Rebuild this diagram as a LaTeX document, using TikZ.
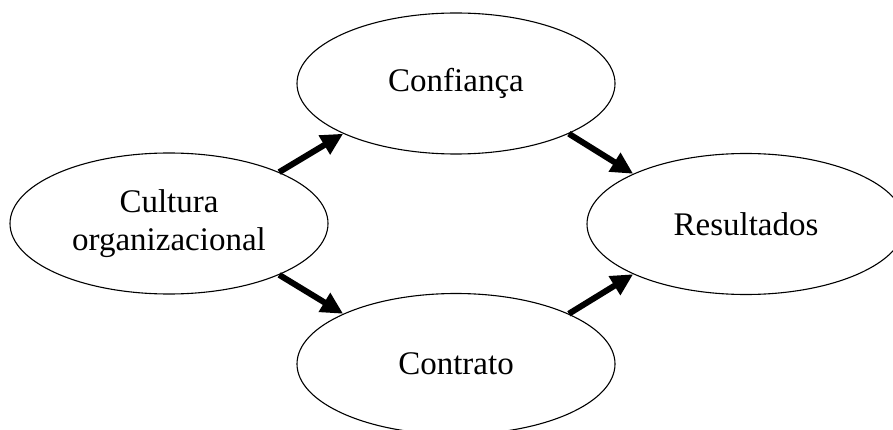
\documentclass[tikz,border=0pt]{standalone}
\usepackage{fontspec}
\setmainfont{Liberation Serif}
\usetikzlibrary{shapes.geometric, arrows.meta}

\begin{document}
\begin{tikzpicture}[x=1pt, y=-1pt]
		\tikzset{el/.style={ellipse, draw=black, line width=1.1pt, inner sep=0pt, minimum width=318pt, minimum height=141pt, align=center, font=\fontsize{33}{38}\selectfont}};
		\tikzset{seta/.style={line width=6pt, -{Triangle[length=22pt, width=21pt]}}};

		\useasboundingbox (0, 0) rectangle (893, 430);

		\node[el] (conf) at (456, 83.5) {Confiança};
		\node[el] (cult) at (169, 223.5) {Cultura\\organizacional};
		\node[el] (res) at (746, 224) {Resultados};
		\node[el] (contr) at (456, 364) {Contrato};

		\draw[seta] (cult.25) to (conf.204);
		\draw[seta] (cult.-25) to (contr.156);

		\draw[seta] (conf.-24) to (res.156);
		\draw[seta] (contr.24) to (res.204);

	\end{tikzpicture}
\end{document}
